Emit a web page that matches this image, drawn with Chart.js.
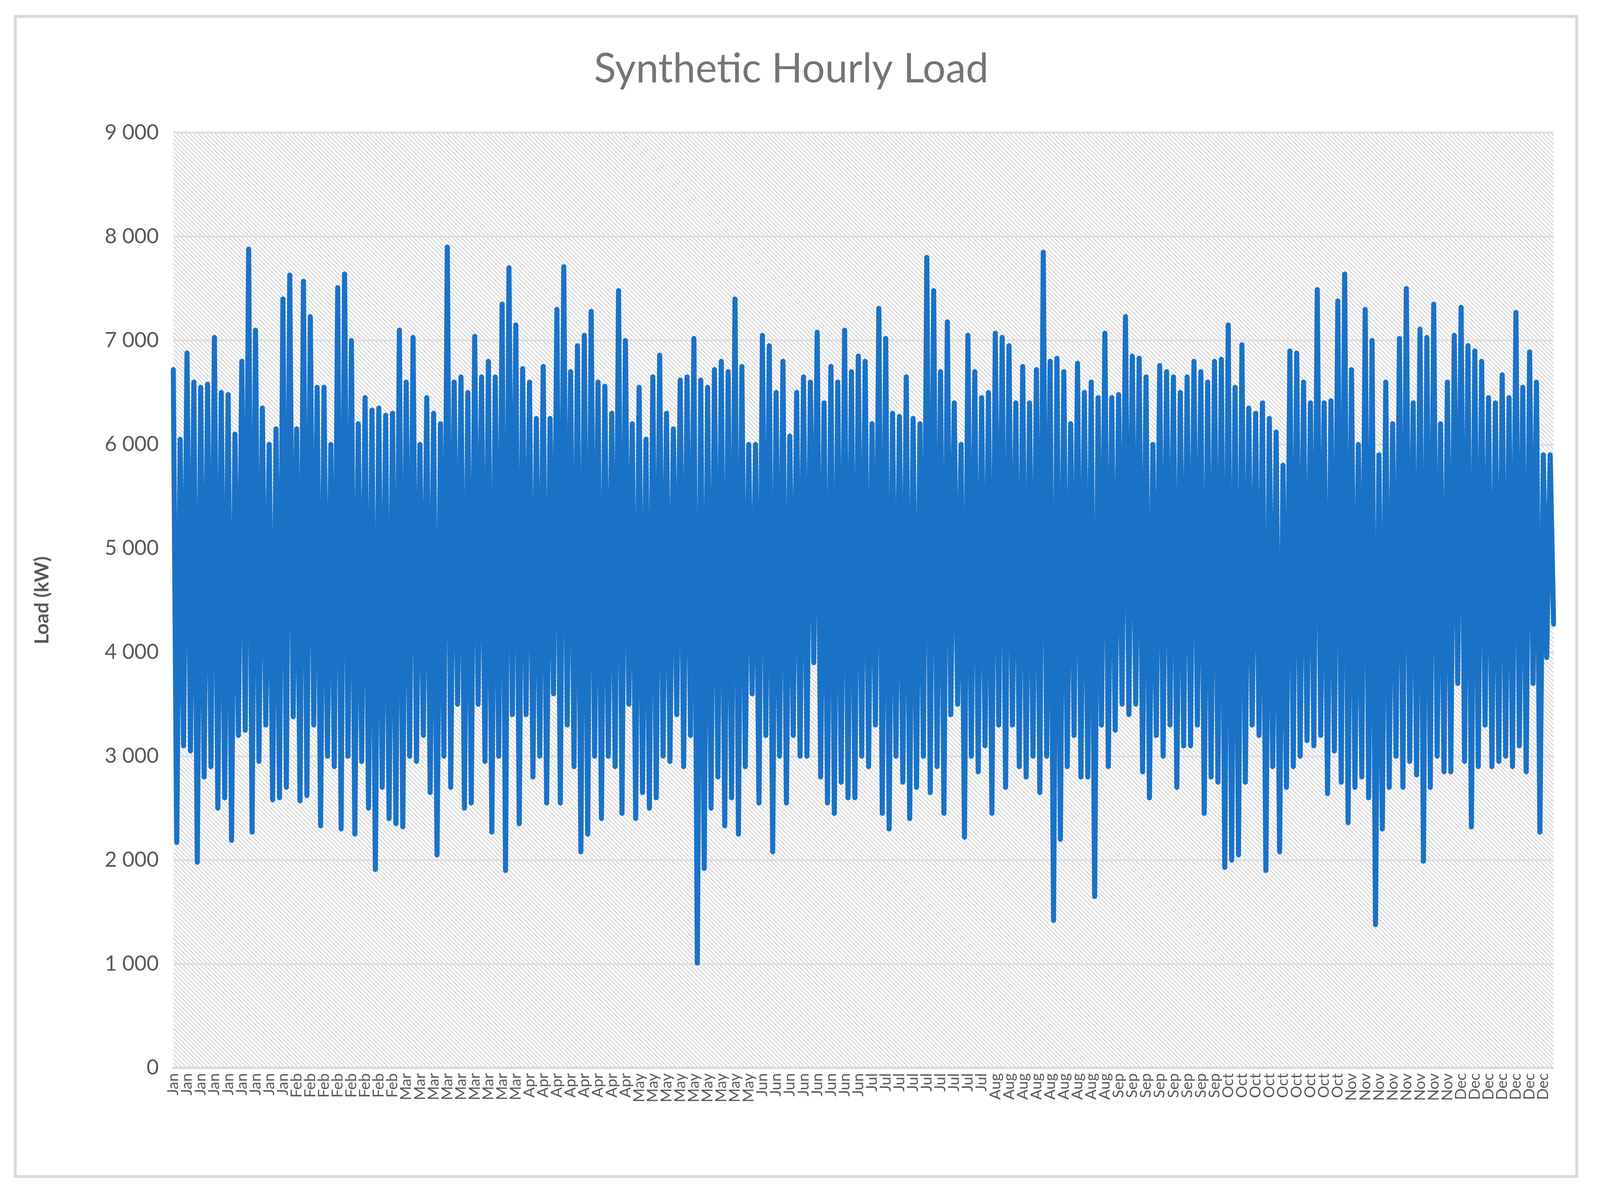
<!DOCTYPE html>
<html>
<head>
<meta charset="utf-8">
<script src="https://cdn.jsdelivr.net/npm/chart.js@4.4.1/dist/chart.umd.min.js"></script>
<style>
  html, body { margin: 0; padding: 0; background: #fff; overflow: hidden; }
  #wrap { position: fixed; left: 0; top: 0; width: 100vw; height: 100vh; }
  #loadChart { display: block; }
</style>
</head>
<body>
<div id="wrap"><canvas id="loadChart"></canvas></div>
<script>
"use strict";

/* ── Tick labels along the x axis (one per tick, ~87 h apart) ── */
const tickLabels = [
  "Jan","Jan","Jan","Jan","Jan","Jan","Jan","Jan","Jan",
  "Feb","Feb","Feb","Feb","Feb","Feb","Feb","Feb",
  "Mar","Mar","Mar","Mar","Mar","Mar","Mar","Mar","Mar",
  "Apr","Apr","Apr","Apr","Apr","Apr","Apr","Apr",
  "May","May","May","May","May","May","May","May","May",
  "Jun","Jun","Jun","Jun","Jun","Jun","Jun","Jun",
  "Jul","Jul","Jul","Jul","Jul","Jul","Jul","Jul","Jul",
  "Aug","Aug","Aug","Aug","Aug","Aug","Aug","Aug","Aug",
  "Sep","Sep","Sep","Sep","Sep","Sep","Sep","Sep",
  "Oct","Oct","Oct","Oct","Oct","Oct","Oct","Oct","Oct",
  "Nov","Nov","Nov","Nov","Nov","Nov","Nov","Nov",
  "Dec","Dec","Dec","Dec","Dec","Dec","Dec"
];

/* ── Load (kW): peak / trough pairs, two per tick ── */
const peaks = [
  6720,6050, 6880,6600, 6550,6580, 7030,6500, 6480,6100, 6800,7880, 7100,6350, 6000,6150, 7400,7630, 6150,7570,
  7230,6550, 6550,6000, 7510,7640, 7000,6200, 6450,6330, 6350,6280, 6300,7100, 6600,7030, 6000,6450, 6300,6200,
  7900,6600, 6650,6500, 7040,6650, 6800,6650, 7350,7700, 7150,6730, 6600,6250, 6750,6250, 7300,7710, 6700,6950,
  7050,7280, 6600,6560, 6300,7480, 7000,6200, 6550,6050, 6650,6860, 6300,6150, 6620,6650, 7020,6620, 6550,6720,
  6800,6700, 7400,6750, 6000,6000, 7050,6950, 6500,6800, 6080,6500, 6650,6600, 7080,6400, 6750,6600, 7100,6700,
  6850,6800, 6200,7310, 7020,6300, 6270,6650, 6250,6200, 7800,7480, 6700,7180, 6400,6000, 7050,6700, 6450,6500,
  7070,7030, 6950,6400, 6750,6400, 6720,7850, 6800,6830, 6700,6200, 6780,6500, 6600,6450, 7070,6450, 6480,7230,
  6850,6830, 6650,6000, 6760,6700, 6650,6500, 6650,6800, 6700,6600, 6800,6820, 7150,6550, 6960,6350, 6300,6400,
  6250,6120, 5800,6900, 6880,6600, 6400,7490, 6400,6420, 7380,7640, 6720,6000, 7300,7000, 5900,6600, 6200,7020,
  7500,6400, 7110,7030, 7350,6200, 6600,7050, 7320,6950, 6900,6800, 6450,6400, 6670,6450, 7270,6550, 6890,6600,
  5900,5900
];
const troughs = [
  2170,3100, 3050,1980, 2800,2900, 2500,2600, 2190,3200, 3250,2270, 2950,3300, 2580,2600, 2700,3380, 2570,2620,
  3300,2330, 3000,2900, 2300,3000, 2250,2950, 2500,1910, 2700,2400, 2350,2320, 3000,2950, 3200,2650, 2050,3000,
  2700,3500, 2500,2550, 3500,2950, 2270,3000, 1900,3400, 2350,3400, 2800,3000, 2550,3600, 2550,3300, 2900,2080,
  2250,3000, 2400,3000, 2900,2450, 3500,2400, 2650,2500, 2600,3000, 2950,3400, 2900,3200, 1010,1920, 2500,2800,
  2330,2600, 2250,2900, 3600,2550, 3200,2080, 3000,2550, 3200,3000, 3000,3900, 2800,2550, 2450,2750, 2600,2600,
  3000,2900, 3300,2450, 2300,3000, 2750,2400, 2700,3000, 2650,2900, 2450,3400, 3500,2220, 3000,2850, 3100,2450,
  3300,2700, 3300,2900, 2800,3000, 2650,3000, 1420,2200, 2900,3200, 2800,2800, 1650,3300, 2900,3250, 3500,3400,
  3500,2850, 2600,3200, 3000,3300, 2700,3100, 3100,3300, 2450,2800, 2750,1930, 2000,2050, 2750,3300, 3200,1900,
  2900,2080, 2700,2900, 3000,3150, 3100,3200, 2640,3050, 2750,2360, 2700,2800, 2600,1380, 2300,2700, 3000,2700,
  2950,2820, 1990,2700, 3000,2850, 2850,3700, 2950,2320, 2900,3300, 2900,2950, 3000,2900, 3100,2850, 3700,2270,
  3950,4270
];

const yTicks = [0, 1000, 2000, 3000, 4000, 5000, 6000, 7000, 8000, 9000];

/* interleave peak / trough so the thick line fills the band */
const loads = [];
const pointLabels = [];
peaks.forEach((p, i) => {
  loads.push(p, troughs[i]);
  pointLabels.push(tickLabels[Math.floor(i / 2)], tickLabels[Math.floor(i / 2)]);
});

const fmtThousands = (v) => String(v).replace(/\B(?=(\d{3})+(?!\d))/g, " ");

// everything below was laid out for a 4413 x 3044 page
const W = window.innerWidth || 4413;
const H = window.innerHeight || 3044;
const S = W / 4413;
const SY = H / 3044;

/* ── hatched plot background + outer frame ── */
function makeHatch(ctx) {
  const n = Math.max(4, Math.round(12 * S));
  const c = document.createElement("canvas");
  c.width = n; c.height = n;
  const g = c.getContext("2d");
  g.fillStyle = "#ffffff";
  g.fillRect(0, 0, n, n);
  g.strokeStyle = "#d6d6d6";
  g.lineWidth = 3 * S;
  g.beginPath();
  g.moveTo(0, 0); g.lineTo(n, n);
  g.moveTo(-n / 2, n / 2); g.lineTo(n / 2, n * 1.5);
  g.moveTo(n / 2, -n / 2); g.lineTo(n * 1.5, n / 2);
  g.stroke();
  return ctx.createPattern(c, "repeat");
}

const decor = {
  id: "decor",
  beforeDraw(chart) {
    const { ctx, chartArea: a } = chart;
    ctx.save();
    ctx.fillStyle = makeHatch(ctx);
    ctx.fillRect(a.left, a.top, a.right - a.left, a.bottom - a.top);
    ctx.restore();
  },
  afterDraw(chart) {
    const ctx = chart.ctx;
    ctx.save();
    ctx.strokeStyle = "#d9d9d9";
    ctx.lineWidth = 8 * S;
    ctx.strokeRect(42 * S, 42 * SY, chart.width - 106 * S, chart.height - 74 * SY);
    ctx.restore();
  },
};

new Chart(document.getElementById("loadChart"), {
  type: "line",
  data: {
    labels: pointLabels,
    datasets: [
      {
        label: "Load",
        data: loads,
        borderColor: "#1a72c7",
        borderWidth: 14 * S,
        pointRadius: 0,
        tension: 0,
        fill: false,
        borderCapStyle: "round",
        borderJoinStyle: "round",
      },
    ],
  },
  options: {
    responsive: true,
    maintainAspectRatio: false,
    animation: false,
    layout: { padding: { left: 80 * S, right: 128 * S, top: 115 * SY, bottom: 200 * SY } },
    plugins: {
      legend: { display: false },
      tooltip: { enabled: false },
      title: {
        display: true,
        text: "Synthetic Hourly Load",
        color: "#757575",
        font: { family: "Lato", size: 112 * S, weight: "normal" },
        padding: { top: 0, bottom: 100 * SY },
      },
    },
    scales: {
      x: {
        grid: { display: false },
        border: { color: "#d9d9d9", width: 6 * S },
        ticks: {
          autoSkip: false,
          minRotation: 90,
          maxRotation: 90,
          color: "#595959",
          padding: 6 * S,
          font: { family: "Lato", size: 42 * S },
          callback: (v, i) => (i % 4 === 0 ? pointLabels[i] : null),
        },
        afterFit: (s) => { s.height = 110 * SY; },
      },
      y: {
        min: 0,
        max: 9000,
        afterBuildTicks: (s) => { s.ticks = yTicks.map((v) => ({ value: v })); },
        grid: { color: "#dedede", lineWidth: 5 * S, drawTicks: false },
        border: { display: false },
        ticks: {
          color: "#595959",
          padding: 40 * S,
          font: { family: "Lato", size: 58 * S },
          callback: (v) => fmtThousands(v),
        },
        title: {
          display: true,
          text: "Load (kW)",
          color: "#595959",
          font: { family: "Lato", size: 54 * S, weight: "bold" },
          padding: { bottom: 60 * S },
        },
        afterFit: (s) => { s.width = 398 * S; },
      },
    },
  },
  plugins: [decor],
});
</script>
</body>
</html>
